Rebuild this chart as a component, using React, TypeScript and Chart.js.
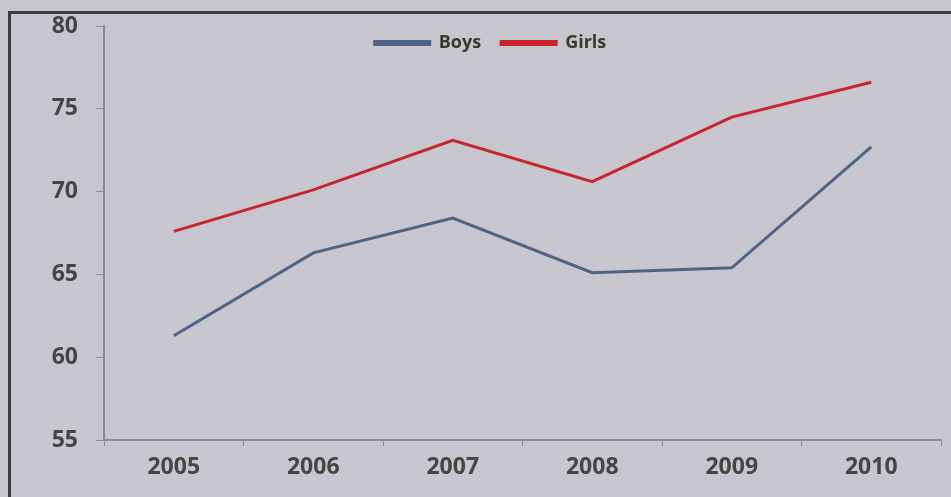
import React, { useEffect, useRef } from "react";
import { Chart, registerables } from "chart.js";

Chart.register(...registerables);

const years = ["2005", "2006", "2007", "2008", "2009", "2010"];
const boys = [61.3, 66.3, 68.4, 65.1, 65.4, 72.7];
const girls = [67.6, 70.1, 73.1, 70.6, 74.5, 76.6];
const yTicks = [55, 60, 65, 70, 75, 80];

const BG = "#c7c6ce";
const AXIS = "#8c8b92";
const TEXT = "#454543";

export default function App() {
  const ref = useRef<HTMLCanvasElement | null>(null);

  useEffect(() => {
    if (!ref.current) return;
    const moveLegend = {
      id: "moveLegend",
      afterLayout(chart: any) {
        const lg = chart.legend;
        if (lg) {
          const h = lg.bottom - lg.top;
          lg.top = 14;
          lg.bottom = 14 + h;
          lg.left += 10;
          lg.right += 10;
        }
      },
    };
    const chart = new Chart(ref.current, {
      type: "line",
      data: {
        labels: years,
        datasets: [
          {
            label: "Boys",
            data: boys,
            borderColor: "#4f6385",
            backgroundColor: "#4f6385",
            borderWidth: 3,
            pointRadius: 0,
            tension: 0,
          },
          {
            label: "Girls",
            data: girls,
            borderColor: "#c8242c",
            backgroundColor: "#b8363a",
            borderWidth: 3,
            pointRadius: 0,
            tension: 0,
          },
        ],
      },
      options: {
        responsive: false,
        animation: false,
        layout: { padding: { left: 20, right: 10, top: -22, bottom: 0 } },
        plugins: {
          tooltip: { enabled: false },
          legend: {
            position: "top",
            align: "center",
            labels: {
              boxWidth: 55,
              boxHeight: 3,
              padding: 20,
              color: "#3a3a2c",
              font: { family: "Open Sans", weight: "bold", size: 18 },
            },
          },
        },
        scales: {
          x: {
            offset: true,
            afterFit: (s: any) => {
              s.height = 57;
              s.paddingLeft = 0;
              s.paddingRight = 0;
            },
            grid: {
              display: true,
              offset: true,
              drawOnChartArea: false,
              drawTicks: true,
              tickLength: 6,
              color: AXIS,
            },
            border: { display: true, color: AXIS, width: 2 },
            ticks: {
              color: TEXT,
              padding: 8,
              font: { family: "Open Sans", weight: "bold", size: 23 },
            },
          },
          y: {
            min: 55,
            max: 80,
            afterFit: (s: any) => {
              s.width = 84;
              s.paddingTop = 0;
              s.paddingBottom = 0;
            },
            afterBuildTicks: (s: any) => {
              s.ticks = yTicks.map((v) => ({ value: v }));
            },
            grid: {
              display: true,
              drawOnChartArea: false,
              drawTicks: true,
              tickLength: 8,
              color: AXIS,
            },
            border: { display: true, color: AXIS, width: 2 },
            ticks: {
              color: TEXT,
              padding: 18,
              font: { family: "Open Sans", weight: "bold", size: 23 },
            },
          },
        },
      },
      plugins: [moveLegend],
    } as any);
    return () => chart.destroy();
  }, []);

  return (
    <div
      style={{
        position: "fixed",
        left: 0,
        top: 0,
        width: 951,
        height: 497,
        background: BG,
        overflow: "hidden",
      }}
    >
      <div
        style={{
          position: "absolute",
          left: 8,
          top: 11,
          right: -4,
          bottom: -4,
          borderLeft: "3px solid #3c3c3e",
          borderTop: "3px solid #3c3c3e",
        }}
      />
      <canvas
        ref={ref}
        width={951}
        height={497}
        style={{ position: "absolute", left: 0, top: 0 }}
      />
    </div>
  );
}
